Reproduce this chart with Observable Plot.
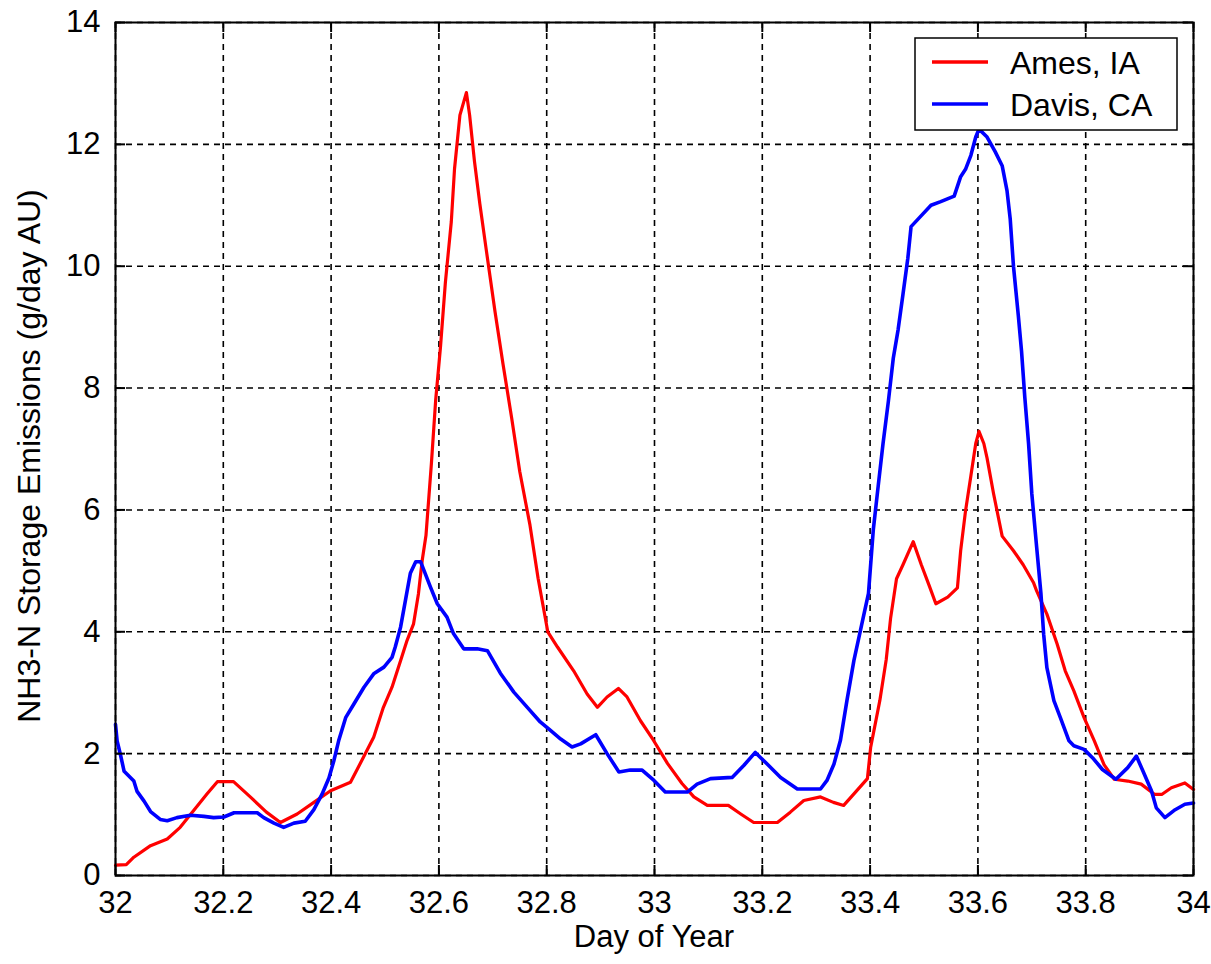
<!DOCTYPE html>
<html>
<head>
<meta charset="utf-8">
<script src="https://cdn.jsdelivr.net/npm/d3@7"></script>
<script src="https://cdn.jsdelivr.net/npm/@observablehq/plot@0.6"></script>
<style>
  body { margin: 0; background: #fff; }
  #chart svg { display: block; }
</style>
</head>
<body>
<div id="chart"></div>
<script>
// ---------------- data ----------------
const seriesNames = ["Ames, IA", "Davis, CA"];
const seriesColors = ["#ff0000", "#0000ff"];

const amesDay = [32.000, 32.020, 32.034, 32.065, 32.096, 32.120, 32.148, 32.170, 32.189, 32.219,
  32.250, 32.280, 32.306, 32.337, 32.368, 32.399, 32.436, 32.460, 32.479, 32.497,
  32.513, 32.529, 32.541, 32.553, 32.562, 32.569, 32.576, 32.586, 32.594, 32.603,
  32.612, 32.623, 32.629, 32.639, 32.651, 32.657, 32.666, 32.676, 32.688, 32.704,
  32.719, 32.735, 32.750, 32.769, 32.784, 32.802, 32.820, 32.850, 32.875, 32.894,
  32.912, 32.933, 32.949, 32.974, 32.998, 33.024, 33.051, 33.073, 33.098, 33.137,
  33.160, 33.184, 33.228, 33.252, 33.277, 33.308, 33.332, 33.351, 33.370, 33.395,
  33.401, 33.418, 33.430, 33.438, 33.449, 33.461, 33.480, 33.495, 33.510, 33.522,
  33.544, 33.562, 33.568, 33.577, 33.587, 33.596, 33.602, 33.611, 33.617, 33.629,
  33.645, 33.666, 33.684, 33.703, 33.709, 33.728, 33.747, 33.762, 33.778, 33.797,
  33.816, 33.834, 33.853, 33.878, 33.903, 33.928, 33.941, 33.959, 33.984, 34.000];
const amesVal = [0.17, 0.18, 0.30, 0.49, 0.60, 0.79, 1.10, 1.34, 1.54, 1.54,
  1.29, 1.04, 0.87, 1.01, 1.20, 1.39, 1.53, 1.94, 2.27, 2.76,
  3.09, 3.53, 3.86, 4.13, 4.62, 5.17, 5.58, 6.75, 7.80, 8.68,
  9.73, 10.73, 11.60, 12.48, 12.85, 12.48, 11.72, 11.02, 10.26, 9.26,
  8.39, 7.51, 6.63, 5.75, 4.88, 4.00, 3.75, 3.36, 2.98, 2.76,
  2.93, 3.07, 2.93, 2.54, 2.22, 1.84, 1.51, 1.29, 1.15, 1.15,
  1.01, 0.87, 0.87, 1.04, 1.23, 1.29, 1.20, 1.15, 1.34, 1.59,
  2.10, 2.87, 3.55, 4.22, 4.87, 5.10, 5.48, 5.10, 4.75, 4.46,
  4.57, 4.72, 5.33, 5.98, 6.56, 7.09, 7.29, 7.09, 6.85, 6.27,
  5.57, 5.33, 5.10, 4.81, 4.67, 4.29, 3.80, 3.36, 3.03, 2.59,
  2.21, 1.82, 1.58, 1.55, 1.50, 1.33, 1.33, 1.44, 1.52, 1.41];

const davisDay = [32.000, 32.003, 32.009, 32.016, 32.034, 32.040, 32.053, 32.065, 32.083, 32.096,
  32.114, 32.139, 32.164, 32.182, 32.201, 32.220, 32.244, 32.263, 32.275, 32.294,
  32.312, 32.331, 32.352, 32.368, 32.383, 32.396, 32.405, 32.414, 32.427, 32.442,
  32.461, 32.479, 32.498, 32.513, 32.519, 32.529, 32.538, 32.547, 32.557, 32.566,
  32.584, 32.597, 32.615, 32.627, 32.646, 32.671, 32.690, 32.714, 32.739, 32.764,
  32.788, 32.807, 32.826, 32.847, 32.863, 32.891, 32.912, 32.934, 32.955, 32.977,
  32.999, 33.020, 33.061, 33.079, 33.104, 33.144, 33.166, 33.187, 33.209, 33.234,
  33.265, 33.308, 33.320, 33.333, 33.345, 33.357, 33.370, 33.384, 33.397, 33.406,
  33.415, 33.424, 33.434, 33.443, 33.452, 33.461, 33.470, 33.476, 33.495, 33.513,
  33.531, 33.556, 33.568, 33.577, 33.587, 33.596, 33.602, 33.617, 33.632, 33.645,
  33.654, 33.660, 33.666, 33.675, 33.681, 33.687, 33.694, 33.700, 33.709, 33.717,
  33.722, 33.728, 33.741, 33.753, 33.769, 33.778, 33.797, 33.813, 33.831, 33.856,
  33.878, 33.894, 33.906, 33.922, 33.931, 33.947, 33.966, 33.984, 34.000];
const davisVal = [2.48, 2.21, 1.99, 1.71, 1.55, 1.38, 1.22, 1.05, 0.92, 0.90,
  0.95, 0.99, 0.97, 0.95, 0.96, 1.03, 1.03, 1.03, 0.95, 0.86,
  0.79, 0.86, 0.89, 1.08, 1.33, 1.60, 1.88, 2.21, 2.59, 2.81,
  3.09, 3.31, 3.42, 3.58, 3.75, 4.08, 4.52, 4.96, 5.15, 5.15,
  4.74, 4.46, 4.24, 3.97, 3.72, 3.72, 3.69, 3.32, 3.01, 2.76,
  2.52, 2.38, 2.24, 2.11, 2.16, 2.31, 2.00, 1.70, 1.73, 1.73,
  1.56, 1.37, 1.37, 1.50, 1.59, 1.61, 1.81, 2.02, 1.83, 1.61,
  1.42, 1.42, 1.56, 1.83, 2.22, 2.87, 3.53, 4.10, 4.63, 5.68,
  6.39, 7.09, 7.79, 8.49, 8.96, 9.54, 10.13, 10.65, 10.83, 11.00,
  11.06, 11.15, 11.47, 11.59, 11.82, 12.12, 12.25, 12.12, 11.88, 11.65,
  11.24, 10.77, 10.00, 9.19, 8.60, 7.85, 7.09, 6.27, 5.39, 4.62,
  3.96, 3.41, 2.87, 2.59, 2.21, 2.13, 2.07, 1.93, 1.74, 1.58,
  1.77, 1.96, 1.72, 1.39, 1.11, 0.95, 1.08, 1.17, 1.19];

const xTicks = [32, 32.2, 32.4, 32.6, 32.8, 33, 33.2, 33.4, 33.6, 33.8, 34];
const yTicks = [0, 2, 4, 6, 8, 10, 12, 14];
const xLabel = "Day of Year";
const yLabel = "NH3-N Storage Emissions (g/day AU)";

// ---------------- build ----------------
const ames = amesDay.map((d, i) => ({day: d, val: amesVal[i]}));
const davis = davisDay.map((d, i) => ({day: d, val: davisVal[i]}));

const W = 1211, H = 964;
const mL = 115, mR = 18, mT = 22, mB = 89;
const xDom = [32, 34], yDom = [0, 14];
const tickPx = 10;
const tickY = tickPx * (yDom[1] - yDom[0]) / (H - mT - mB);
const tickX = tickPx * (xDom[1] - xDom[0]) / (W - mL - mR);
const fmt = d3.format("~g");
const FONT = "'Liberation Sans', Arial, Helvetica, sans-serif";

const gridStyle = {stroke: "#000", strokeOpacity: 1, strokeWidth: 1.6, strokeDasharray: "6,5"};
const tickStyle = {stroke: "#000", strokeWidth: 2};

const svg = Plot.plot({
  width: W, height: H,
  marginLeft: mL, marginRight: mR, marginTop: mT, marginBottom: mB,
  style: {fontFamily: FONT, fontSize: "31px", color: "#000", background: "#fff"},
  x: {domain: xDom, ticks: xTicks},
  y: {domain: yDom, ticks: yTicks},
  marks: [
    Plot.gridX(xTicks, gridStyle),
    Plot.gridY(yTicks, gridStyle),
    Plot.line(ames, {x: "day", y: "val", stroke: seriesColors[0], strokeWidth: 3.2, strokeLinejoin: "round"}),
    Plot.line(davis, {x: "day", y: "val", stroke: seriesColors[1], strokeWidth: 3.6, strokeLinejoin: "round"}),
    Plot.frame({stroke: "#000", strokeWidth: 2}),
    // inward ticks on all four sides (MATLAB style)
    Plot.ruleX(xTicks, {y1: yDom[0], y2: yDom[0] + tickY, ...tickStyle}),
    Plot.ruleX(xTicks, {y1: yDom[1], y2: yDom[1] - tickY, ...tickStyle}),
    Plot.ruleY(yTicks, {x1: xDom[0], x2: xDom[0] + tickX, ...tickStyle}),
    Plot.ruleY(yTicks, {x1: xDom[1], x2: xDom[1] - tickX, ...tickStyle}),
    Plot.axisX(xTicks, {tickSize: 0, tickPadding: 15, tickFormat: fmt, label: null, fontSize: 31}),
    Plot.axisY(yTicks, {tickSize: 0, tickPadding: 15, tickFormat: fmt, label: null, fontSize: 31})
  ]
});

const s = d3.select(svg);
// axis titles
s.append("text")
  .attr("x", (mL + W - mR) / 2).attr("y", 947)
  .attr("text-anchor", "middle")
  .attr("font-family", FONT).attr("font-size", 31).attr("fill", "#000")
  .text(xLabel);
s.append("text")
  .attr("transform", "translate(40,456) rotate(-90)")
  .attr("text-anchor", "middle")
  .attr("font-family", FONT).attr("font-size", 32).attr("fill", "#000")
  .text(yLabel);

// legend box
const lg = s.append("g");
lg.append("rect")
  .attr("x", 915).attr("y", 38).attr("width", 262).attr("height", 92)
  .attr("fill", "#fff").attr("stroke", "#000").attr("stroke-width", 1.5);
seriesNames.forEach((name, i) => {
  const cy = 62 + i * 42;
  lg.append("line")
    .attr("x1", 932).attr("x2", 988).attr("y1", cy).attr("y2", cy)
    .attr("stroke", seriesColors[i]).attr("stroke-width", 3.5);
  lg.append("text")
    .attr("x", 1010).attr("y", cy + 12)
    .attr("text-anchor", "start")
    .attr("font-family", FONT).attr("font-size", 32).attr("fill", "#000")
    .text(name);
});

document.getElementById("chart").appendChild(svg);
</script>
</body>
</html>
